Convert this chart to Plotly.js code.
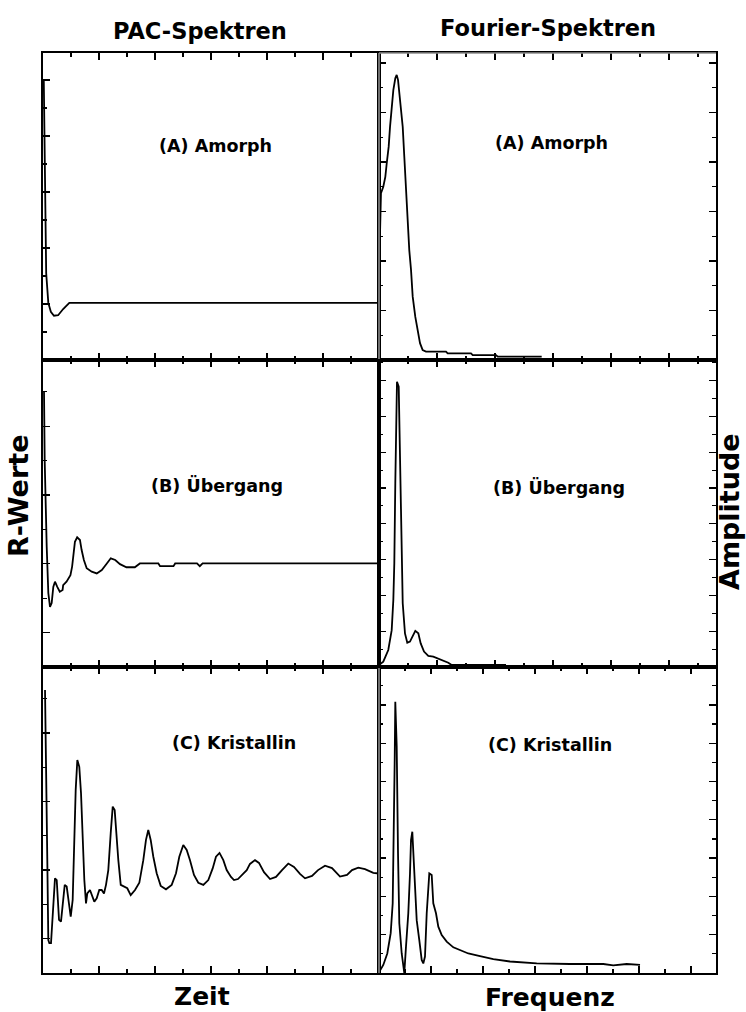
<!DOCTYPE html>
<html>
<head>
<meta charset="utf-8">
<script src="https://cdn.plot.ly/plotly-3.0.1.min.js"></script>
<style>html,body{margin:0;padding:0;background:#fff;}#chart{width:746px;height:1012px;}</style>
</head>
<body>
<div id="chart"></div>
<script>
// ---- Data ----
// PAC spectra (left column): time axis (arbitrary units), R values
const tAmorph = [0.014, 0.027, 0.039, 0.057, 0.095, 0.14, 0.196, 0.27, 0.36, 0.47, 6.0];
const rAmorph = [5.0, 3.75, 2.32, 1.55, 1.02, 0.86, 0.79, 0.80, 0.91, 1.02, 1.02];

const tUebergang = [0.018, 0.03, 0.066, 0.095, 0.125, 0.155, 0.184, 0.214, 0.255, 0.30, 0.35, 0.36, 0.42, 0.49, 0.52, 0.57, 0.61, 0.66, 0.69, 0.73, 0.78, 0.87, 0.96, 1.05, 1.14, 1.21, 1.29, 1.375, 1.49, 1.64, 1.73, 2.06, 2.09, 2.33, 2.36, 2.75, 2.80, 2.85, 6.0];
const rUebergang = [8.0, 6.02, 3.5, 2.15, 1.75, 1.86, 2.33, 2.48, 2.33, 2.19, 2.24, 2.38, 2.48, 2.67, 2.92, 3.64, 3.77, 3.69, 3.40, 3.11, 2.87, 2.77, 2.72, 2.82, 3.01, 3.16, 3.11, 2.99, 2.90, 2.90, 3.01, 3.01, 2.93, 2.93, 3.01, 3.01, 2.93, 3.01, 3.01];

const tKristallin = [0.036, 0.048, 0.066, 0.077, 0.095, 0.113, 0.143, 0.173, 0.196, 0.214, 0.245, 0.263, 0.286, 0.321, 0.352, 0.388, 0.423, 0.452, 0.495, 0.530, 0.554, 0.584, 0.613, 0.648, 0.679, 0.709, 0.738, 0.768, 0.791, 0.839, 0.875, 0.916, 0.959, 1.005, 1.048, 1.089, 1.125, 1.166, 1.209, 1.245, 1.280, 1.304, 1.345, 1.388, 1.464, 1.505, 1.566, 1.643, 1.720, 1.791, 1.839, 1.880, 1.923, 1.970, 2.030, 2.102, 2.196, 2.298, 2.375, 2.434, 2.505, 2.566, 2.625, 2.696, 2.773, 2.863, 2.952, 3.030, 3.089, 3.152, 3.220, 3.280, 3.357, 3.411, 3.482, 3.548, 3.638, 3.696, 3.786, 3.857, 3.946, 4.054, 4.161, 4.268, 4.380, 4.482, 4.589, 4.679, 4.804, 4.911, 5.036, 5.161, 5.304, 5.429, 5.518, 5.630, 5.750, 5.898, 6.0];
const rKristallin = [8.25, 6.21, 4.95, 3.29, 0.96, 0.87, 0.87, 1.55, 2.32, 2.76, 2.71, 2.13, 1.55, 1.50, 1.93, 2.57, 2.52, 2.13, 1.64, 2.13, 3.68, 5.34, 6.21, 6.01, 5.24, 3.97, 2.71, 2.03, 2.32, 2.42, 2.27, 2.08, 2.18, 2.42, 2.42, 2.32, 2.57, 3.00, 4.07, 4.85, 4.75, 4.17, 3.29, 2.57, 2.49, 2.47, 2.27, 2.42, 2.63, 3.29, 3.88, 4.17, 3.88, 3.39, 2.91, 2.54, 2.44, 2.57, 2.91, 3.39, 3.73, 3.59, 3.29, 2.86, 2.63, 2.57, 2.71, 3.05, 3.39, 3.50, 3.29, 3.00, 2.80, 2.71, 2.74, 2.86, 3.00, 3.18, 3.29, 3.21, 2.94, 2.74, 2.80, 3.00, 3.19, 3.09, 2.89, 2.76, 2.83, 3.00, 3.13, 3.06, 2.81, 2.86, 3.00, 3.07, 3.03, 2.92, 2.90];

// Fourier spectra (right column): frequency (arbitrary units), amplitude
const fAmorph = [0.0, 0.017, 0.034, 0.074, 0.109, 0.133, 0.167, 0.190, 0.224, 0.247, 0.281, 0.305, 0.328, 0.350, 0.379, 0.409, 0.436, 0.466, 0.495, 0.522, 0.552, 0.581, 0.626, 0.667, 0.707, 0.753, 0.810, 1.155, 1.184, 1.586, 1.616, 2.017, 2.047, 2.805];
const aAmorph = [1.68, 2.76, 3.37, 3.50, 3.70, 3.97, 4.31, 4.71, 5.12, 5.45, 5.69, 5.76, 5.66, 5.39, 5.05, 4.71, 4.11, 3.43, 2.69, 2.22, 1.82, 1.28, 0.87, 0.61, 0.34, 0.20, 0.17, 0.17, 0.135, 0.135, 0.10, 0.10, 0.067, 0.067];

const fUebergang = [0.0, 0.074, 0.160, 0.219, 0.247, 0.264, 0.281, 0.298, 0.310, 0.340, 0.357, 0.379, 0.409, 0.448, 0.488, 0.534, 0.581, 0.626, 0.678, 0.719, 0.776, 0.850, 0.936, 1.022, 1.109, 1.195, 1.253, 2.19];
const aUebergang = [0.056, 0.148, 0.475, 1.03, 1.87, 2.90, 5.13, 6.99, 7.97, 7.83, 6.06, 4.20, 1.78, 0.94, 0.68, 0.71, 0.87, 1.01, 0.94, 0.66, 0.43, 0.31, 0.29, 0.24, 0.17, 0.12, 0.056, 0.056];

const fKristallin = [0.01, 0.165, 0.319, 0.45, 0.527, 0.577, 0.604, 0.627, 0.681, 0.731, 0.781, 0.873, 0.973, 1.038, 1.127, 1.192, 1.231, 1.281, 1.319, 1.385, 1.45, 1.55, 1.642, 1.704, 1.769, 1.835, 1.896, 1.935, 2.027, 2.088, 2.192, 2.281, 2.412, 2.604, 2.858, 3.115, 3.435, 3.885, 4.396, 5.038, 6.065, 7.346, 8.627, 9.01, 9.527, 10.04];
const aKristallin = [0.034, 0.21, 0.51, 1.04, 1.82, 3.82, 5.56, 7.08, 5.91, 3.13, 1.30, 0.51, 0.0, 0.69, 1.56, 2.60, 3.47, 3.69, 3.13, 2.08, 1.38, 0.86, 0.34, 0.25, 0.43, 1.56, 2.25, 2.60, 2.56, 1.82, 1.56, 1.21, 0.99, 0.82, 0.67, 0.60, 0.51, 0.44, 0.36, 0.30, 0.25, 0.235, 0.235, 0.20, 0.235, 0.21];

// Text
const columnTitles = ['PAC-Spektren', 'Fourier-Spektren'];
const axisTitles = ['Zeit', 'Frequenz'];
const sideTitles = ['R-Werte', 'Amplitude'];
const panelLabels = ['(A) Amorph', '(B) Übergang', '(C) Kristallin'];

// ---- Layout helpers ----
const W = 746, H = 1012;
const px = v => v / W;
const py = v => 1 - v / H;
const XL = [px(43), px(379)], XR = [px(379), px(716)];
const YT = [py(360), py(53)], YM = [py(667), py(360)], YB = [py(973), py(667)];

function axis(domain, anchor, range, dtick, tick0, mdtick, mirror) {
  return {
    domain: domain, anchor: anchor, range: range, autorange: false,
    showline: true, linecolor: '#000', linewidth: 1.6, mirror: mirror || 'ticks',
    ticks: 'inside', ticklen: 7, tickwidth: 1.4, tickcolor: '#000',
    dtick: dtick, tick0: tick0,
    minor: {ticks: 'inside', ticklen: 4, tickwidth: 1.1, tickcolor: '#000', dtick: mdtick, tick0: 0, showgrid: false},
    showticklabels: false, showgrid: false, zeroline: false, fixedrange: true
  };
}

const line = {color: '#000', width: 1.8};
const data = [
  {x: tAmorph, y: rAmorph, xaxis: 'x', yaxis: 'y'},
  {x: fAmorph, y: aAmorph, xaxis: 'x2', yaxis: 'y2'},
  {x: tUebergang, y: rUebergang, xaxis: 'x3', yaxis: 'y3'},
  {x: fUebergang, y: aUebergang, xaxis: 'x4', yaxis: 'y4'},
  {x: tKristallin, y: rKristallin, xaxis: 'x5', yaxis: 'y5'},
  {x: fKristallin, y: aKristallin, xaxis: 'x6', yaxis: 'y6'}
].map(d => Object.assign({type: 'scatter', mode: 'lines', line: line, hoverinfo: 'skip'}, d));

const hdrFont = {family: 'DejaVu Sans, Verdana, sans-serif', size: 22.5, color: '#000', weight: 'bold'};
const axFont = {family: 'DejaVu Sans, Verdana, sans-serif', size: 25, color: '#000', weight: 'bold'};
const sideFont = {family: 'DejaVu Sans, Verdana, sans-serif', size: 27, color: '#000', weight: 'bold'};
const lblFont = {family: 'DejaVu Sans, Verdana, sans-serif', size: 17.5, color: '#000', weight: 'bold'};

function ann(text, x, y, font, angle) {
  return {text: text, x: px(x), y: py(y), xref: 'paper', yref: 'paper',
    xanchor: 'center', yanchor: 'middle', showarrow: false, font: font, textangle: angle || 0};
}

const annotations = [
  ann(columnTitles[0], 200, 31, hdrFont),
  ann(columnTitles[1], 548, 28, hdrFont),
  ann(axisTitles[0], 202, 996, axFont),
  ann(axisTitles[1], 550, 997, axFont),
  ann(sideTitles[0], 18, 496, sideFont, -90),
  ann(sideTitles[1], 730, 512, sideFont, -90),
  ann(panelLabels[0], 215, 146, lblFont),
  ann(panelLabels[0], 551, 143, lblFont),
  ann(panelLabels[1], 217, 485, lblFont),
  ann(panelLabels[1], 559, 487, lblFont),
  ann(panelLabels[2], 234, 743, lblFont),
  ann(panelLabels[2], 550, 745, lblFont)
];

// light grey frame segments seen on the Fourier column (top and shared left edge)
const grey = {color: '#8c8c8c', width: 1.6};
const shapes = [
  {type: 'line', xref: 'paper', yref: 'paper', x0: px(379), x1: px(716), y0: py(53), y1: py(53), line: grey, layer: 'above'},
  {type: 'line', xref: 'paper', yref: 'paper', x0: px(379), x1: px(379), y0: py(53), y1: py(359), line: grey, layer: 'above'},
  {type: 'line', xref: 'paper', yref: 'paper', x0: px(379), x1: px(379), y0: py(668), y1: py(973), line: grey, layer: 'above'}
];

const layout = {
  width: W, height: H,
  margin: {l: 0, r: 0, t: 0, b: 0},
  paper_bgcolor: '#fff', plot_bgcolor: '#fff',
  showlegend: false,
  xaxis:  axis(XL, 'y',  [0, 6], 1, 0, 0.5),
  yaxis:  axis(YT, 'x',  [0, 307 / 56], 1, 0, 0.5, true),
  xaxis2: axis(XR, 'y2', [0, 337 / 58], 1, 0, 0.5),
  yaxis2: axis(YT, 'x2', [0, 307 / 49.5], 1, 0, 0.5),
  xaxis3: axis(XL, 'y3', [0, 6], 1, 0, 0.5),
  yaxis3: axis(YM, 'x3', [0, 307 / 34.4], 2, 1, 1, true),
  xaxis4: axis(XR, 'y4', [0, 337 / 58], 1, 0, 0.5),
  yaxis4: axis(YM, 'x4', [0, 307 / 35.8], 1, 0, 0.5),
  xaxis5: axis(XL, 'y5', [0, 6], 1, 0, 0.5),
  yaxis5: axis(YB, 'x5', [0, 306 / 34.3], 2, 1, 1, true),
  xaxis6: axis(XR, 'y6', [0, 337 / 26], 2, 0, 1),
  yaxis6: axis(YB, 'x6', [0, 306 / 38.3], 1, 0, 0.5),
  annotations: annotations,
  shapes: shapes
};

Plotly.newPlot('chart', data, layout, {staticPlot: true, displayModeBar: false});
</script>
</body>
</html>
